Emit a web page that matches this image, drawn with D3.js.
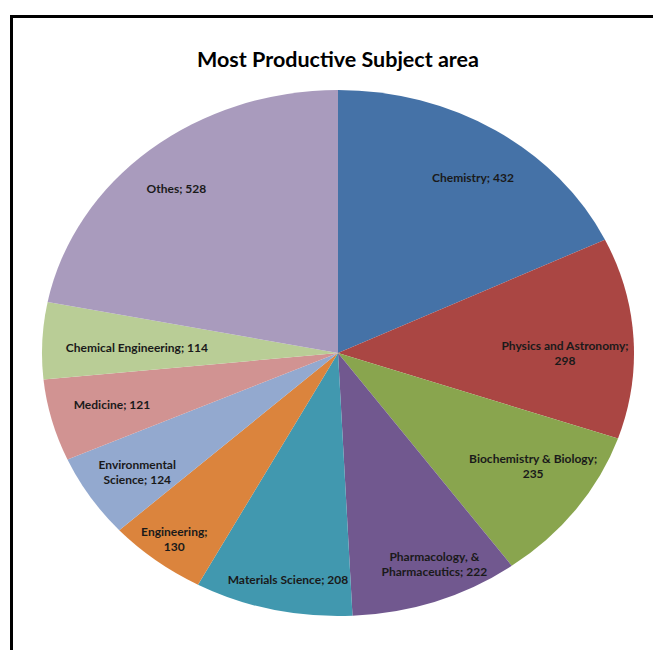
<!DOCTYPE html>
<html><head><meta charset="utf-8">
<script src="https://cdn.jsdelivr.net/npm/d3@7"></script>
<style>body{margin:0;background:#fff}svg{display:block}</style>
</head><body>
<script>
const categories = ["Chemistry","Physics and Astronomy","Biochemistry & Biology","Pharmacology, & Pharmaceutics","Materials Science","Engineering","Environmental Science","Medicine","Chemical Engineering","Othes"];
const values = [432,298,235,222,208,130,124,121,114,528];
const colors = ["#4572A7","#AA4643","#89A54E","#71588F","#4198AF","#DB843D","#93A9CF","#D19392","#B9CD96","#A99BBD"];
// word index after which label wraps (-1 = no wrap)
const labelBreaks = [-1,2,2,1,-1,0,0,-1,-1,-1];
// radial fractions (horizontal / vertical) for label placement
const labelFx = [0.855,0.768,0.82,0.98,0.77,0.9,0.81,0.79,0.68,0.86];
const labelFy = [0.787,0.0,0.725,0.85,0.884,0.9,0.83,0.77,0.4,0.81];
const title = "Most Productive Subject area";

const W=653,H=650, cx=338, cy=353, rx=296, ry=263;
const svg=d3.select("body").append("svg").attr("width",W).attr("height",H);
svg.append("rect").attr("width",W).attr("height",H).attr("fill","#fff");
svg.append("path").attr("d",`M11.5,${H+5} L11.5,16.5 L${W+5},16.5`).attr("fill","none").attr("stroke","#000").attr("stroke-width",3);

svg.append("text").attr("x",cx).attr("y",67).attr("text-anchor","middle")
  .attr("font-family","Lato, 'Open Sans', sans-serif").attr("font-weight","bold").attr("font-size",21.5).attr("fill","#000").text(title);

const pie=d3.pie().sort(null).value(d=>d)(values);
const arc=d3.arc().innerRadius(0).outerRadius(1);
const g=svg.append("g").attr("transform",`translate(${cx},${cy}) scale(${rx},${ry})`);
g.selectAll("path").data(pie).join("path").attr("d",arc).attr("fill",(d,i)=>colors[i]);

const lg=svg.append("g");
pie.forEach((d,i)=>{
  const a=(d.startAngle+d.endAngle)/2;
  const x=cx+rx*labelFx[i]*Math.sin(a), y=cy-ry*labelFy[i]*Math.cos(a);
  const words=(categories[i]+"; "+values[i]).split(" ");
  const b=labelBreaks[i];
  const lines=b<0?[words.join(" ")]:[words.slice(0,b+1).join(" "),words.slice(b+1).join(" ")];
  const t=lg.append("text").attr("text-anchor","middle").attr("font-family","Lato, 'Open Sans', sans-serif")
    .attr("font-weight","bold").attr("font-size",12).attr("fill","#1a1a1a");
  const lh=15, y0=y-(lines.length-1)*lh/2;
  lines.forEach((s,k)=>t.append("tspan").attr("x",x).attr("y",y0+k*lh).attr("dy","0.35em").text(s));
});
</script>
</body></html>
